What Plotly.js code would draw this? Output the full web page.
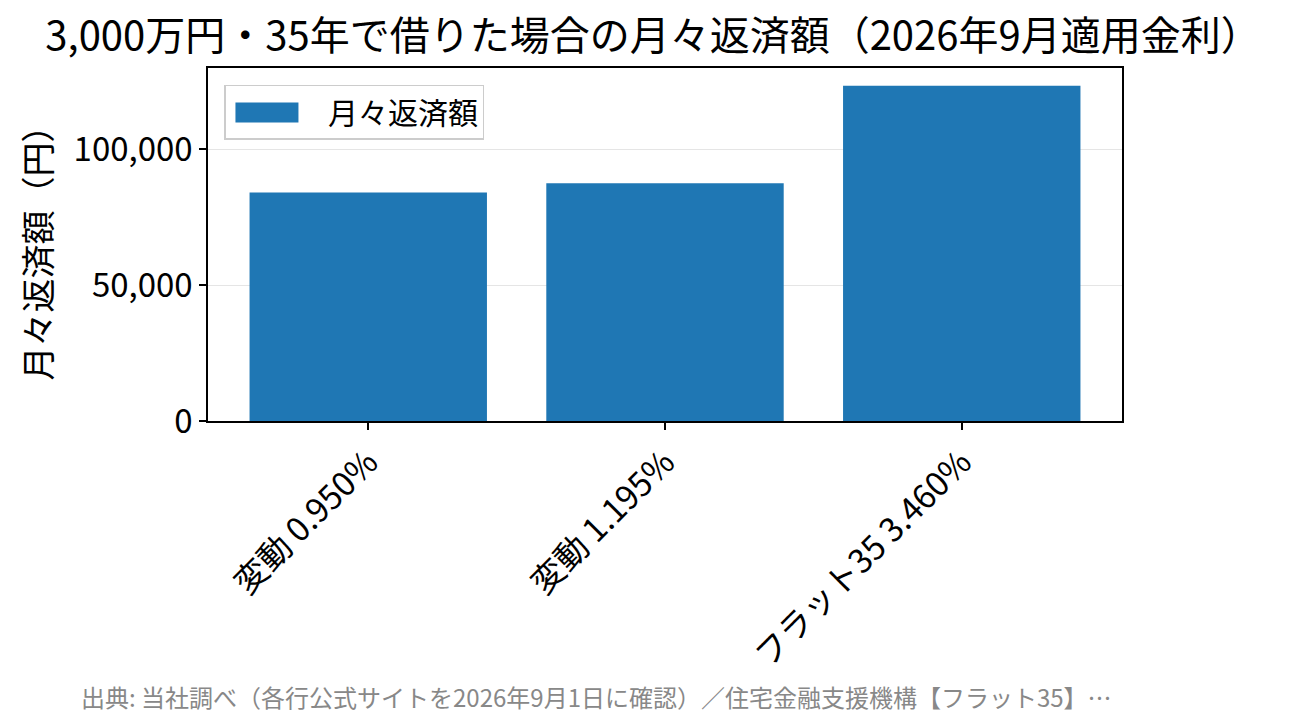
<!DOCTYPE html>
<html>
<head>
<meta charset="utf-8">
<script src="https://cdn.plot.ly/plotly-3.0.1.min.js"></script>
<style>
  html, body { margin: 0; padding: 0; background: #fff; }
  #chart { width: 1306px; height: 725px; }
</style>
</head>
<body>
<div id="chart"></div>
<script>
// 返済額データ（3,000万円・35年・元利均等）
var plans = ['変動 0.950%', '変動 1.195%', 'フラット35 3.460%'];
var monthly = [83983, 87439, 123294];
var yTicks = [0, 50000, 100000];
var yTickText = ['0', '50,000', '100,000'];

var font = '"Noto Sans CJK JP", "Noto Sans", sans-serif';

var data = [
  {
    x: [0, 1, 2],
    y: monthly,
    type: 'bar',
    name: '月々返済額',
    width: 0.8,
    marker: { color: '#1f77b4' },
    hoverinfo: 'x+y'
  }
];

var layout = {
  width: 1306,
  height: 725,
  paper_bgcolor: '#ffffff',
  plot_bgcolor: '#ffffff',
  font: { family: font, color: '#000', size: 22 },
  margin: { l: 208, r: 184, t: 68, b: 304 },
  title: {
    text: '3,000万円・35年で借りた場合の月々返済額（2026年9月適用金利）',
    font: { family: font, size: 40, color: '#000' },
    x: 0.5, xanchor: 'center', y: 0.95, yanchor: 'middle'
  },
  showlegend: true,
  legend: {
    x: 0.018, y: 0.952, xanchor: 'left', yanchor: 'top',
    bgcolor: 'rgba(255,255,255,0.8)',
    bordercolor: '#cccccc', borderwidth: 1.5,
    itemwidth: 92,
    font: { family: font, size: 30, color: '#000' }
  },
  xaxis: {
    range: [-0.54, 2.54],
    tickvals: [0, 1, 2],
    ticktext: plans,
    tickangle: -45,
    ticks: 'outside', ticklen: 7, tickwidth: 1.5, tickcolor: '#000',
    tickfont: { family: font, size: 33, color: '#000' },
    showline: true, linecolor: '#000', linewidth: 1.5, mirror: true,
    showgrid: false, zeroline: false, fixedrange: true
  },
  yaxis: {
    range: [0, 129779],
    tickvals: yTicks,
    ticktext: yTickText,
    ticks: 'outside', ticklen: 7, tickwidth: 1.5, tickcolor: '#000',
    tickfont: { family: font, size: 33, color: '#000' },
    showline: true, linecolor: '#000', linewidth: 1.5, mirror: true,
    showgrid: true, gridcolor: 'rgba(0,0,0,0.1)', gridwidth: 1,
    zeroline: false, fixedrange: true,
    title: { text: '月々返済額（円）', font: { family: font, size: 34, color: '#000' }, standoff: 12 }
  },
  annotations: [
    {
      text: '出典: 当社調べ（各行公式サイトを2026年9月1日に確認）／住宅金融支援機構【フラット35】…',
      xref: 'paper', yref: 'paper',
      x: -0.141, y: -0.78, xanchor: 'left', yanchor: 'middle',
      showarrow: false,
      font: { family: font, size: 24, color: '#888888' }
    }
  ]
};

Plotly.newPlot('chart', data, layout, { displayModeBar: false, responsive: false }).then(function(gd) {
  // wide legend swatch like the original
  var sw = gd.querySelectorAll('.legend .legendpoints path');
  sw.forEach(function(p) { p.setAttribute('d', 'M21.5,10H-41.5V-10H21.5Z'); });
});
</script>
</body>
</html>
